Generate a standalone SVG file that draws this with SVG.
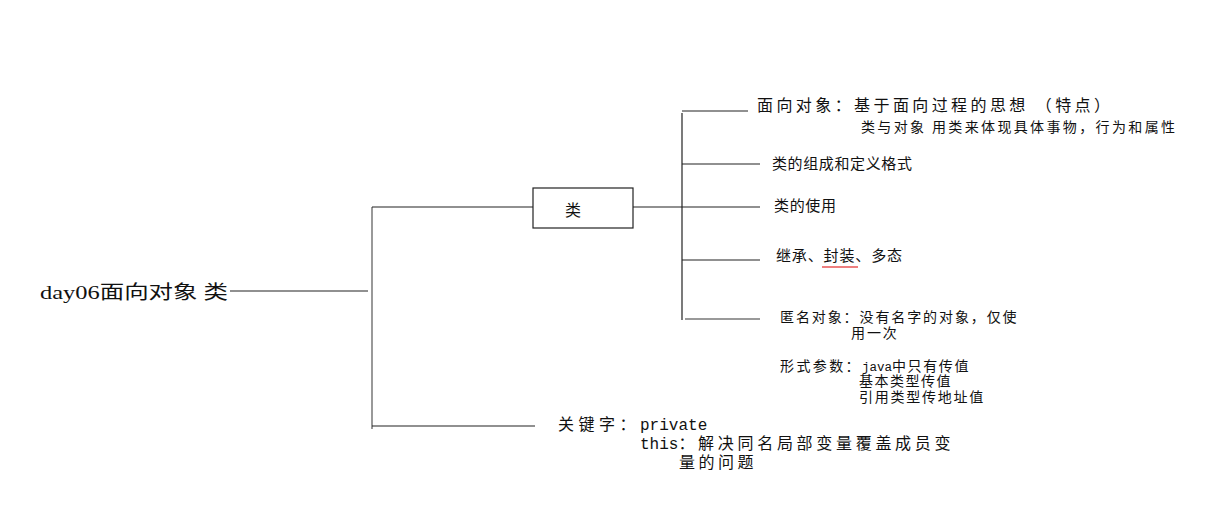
<svg xmlns="http://www.w3.org/2000/svg" width="1223" height="516" viewBox="0 0 1223 516">
<style>
.t{font-family:"Noto Sans CJK SC","Noto Sans",sans-serif;fill:#111;}
.s{font-family:"Liberation Serif","Noto Sans CJK SC",serif;fill:#111;}
.m{font-family:"Liberation Mono","Noto Sans CJK SC",monospace;letter-spacing:0;}
.l{stroke:#222;stroke-width:1.2;fill:none;}
.g{stroke:#777;stroke-width:1.5;fill:none;}
</style>
<rect width="1223" height="516" fill="#fff"/>
<g id="connectors">
<line class="l" x1="230" y1="291" x2="368" y2="291"/>
<line class="g" x1="372" y1="207" x2="372" y2="429"/>
<line class="l" x1="372" y1="207" x2="533" y2="207"/>
<line class="l" x1="372" y1="426" x2="535" y2="426"/>
<line class="l" x1="633" y1="207" x2="682" y2="207"/>
<line class="l" x1="682" y1="113" x2="682" y2="320"/>
<line class="l" x1="682" y1="111" x2="748" y2="111"/>
<line class="l" x1="682" y1="164" x2="760" y2="164"/>
<line class="l" x1="682" y1="207" x2="760" y2="207"/>
<line class="l" x1="682" y1="260" x2="760" y2="260"/>
<line class="g" x1="685" y1="319" x2="760" y2="319"/>
</g>
<g id="root"><text class="s" x="40" y="299" font-size="19" textLength="188" lengthAdjust="spacingAndGlyphs">day06面向对象 类</text></g>
<g id="lei">
<rect x="533" y="188" width="100" height="40" fill="#fff" stroke="#222" stroke-width="1.2"/>
<text class="t" x="573" y="216" font-size="16" text-anchor="middle">类</text>
</g>
<g id="n1">
<text class="t" x="757" y="111" font-size="16" textLength="353" lengthAdjust="spacing">面向对象：基于面向过程的思想 （特点）</text>
<text class="t" x="861" y="132" font-size="14" textLength="314" lengthAdjust="spacing">类与对象 用类来体现具体事物，行为和属性</text>
</g>
<g id="n2"><text class="t" x="772" y="169" font-size="15" textLength="140" lengthAdjust="spacing">类的组成和定义格式</text></g>
<g id="n3"><text class="t" x="774" y="211" font-size="15" textLength="62" lengthAdjust="spacing">类的使用</text></g>
<g id="n4">
<text class="t" x="776" y="261" font-size="15" textLength="126" lengthAdjust="spacing">继承、封装、多态</text>
<line x1="822" y1="267" x2="858" y2="267" stroke="#d00" stroke-width="1.2"/>
</g>
<g id="n5">
<text class="t" font-size="14" letter-spacing="1.9"><tspan x="780" y="322">匿名对象：没有名字的对象，仅使</tspan><tspan x="851" y="338">用一次</tspan></text>
</g>
<g id="n6">
<text class="t" font-size="14"><tspan x="780" y="371" letter-spacing="2.4">形式参数：</tspan><tspan class="m" font-size="12.5">java</tspan><tspan letter-spacing="1.6">中只有传值</tspan><tspan x="859" y="386" letter-spacing="1.5">基本类型传值</tspan><tspan x="859" y="402" letter-spacing="1.75">引用类型传地址值</tspan></text>
</g>
<g id="n7">
<text class="t" font-size="16"><tspan x="558" y="430" letter-spacing="4.5">关键字：</tspan><tspan class="m">private</tspan><tspan x="640" y="449" class="m">this</tspan><tspan letter-spacing="3.7">：解决同名局部变量覆盖成员变</tspan><tspan x="679" y="468" letter-spacing="3.5">量的问题</tspan></text>
</g>
</svg>
